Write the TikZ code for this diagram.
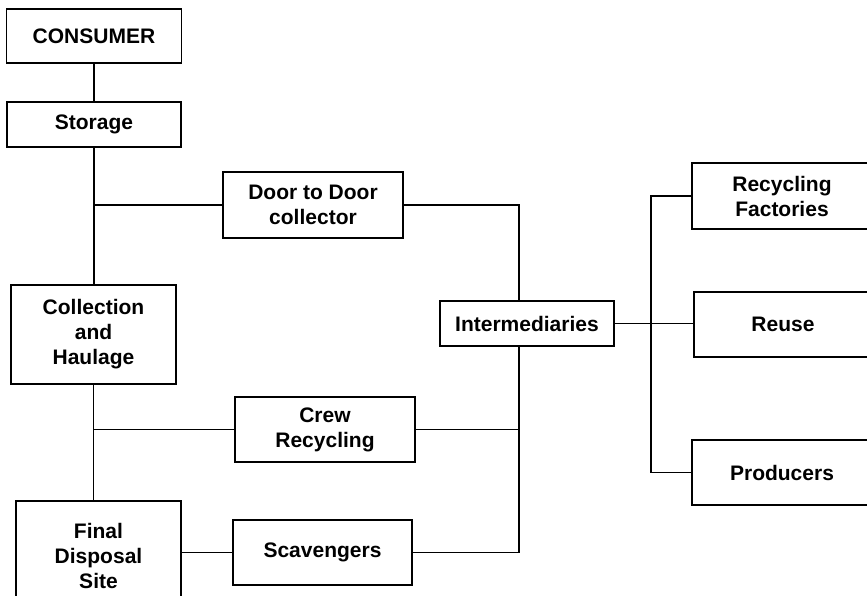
\documentclass[tikz,border=0pt]{standalone}
\usepackage{fontspec}
\setmainfont{Liberation Sans}
\begin{document}
\begin{tikzpicture}[x=1pt,y=-1pt,
  box/.style={draw=black,line width=1.6pt,inner sep=0pt,align=center,
    font=\fontsize{21}{25}\selectfont\bfseries,text=black},
  link/.style={draw=black,line width=1.3pt}]
\useasboundingbox (0,0) rectangle (867,596);
\clip (0,0) rectangle (867,596);
\fill[white] (0,0) rectangle (867,596);
% left column
\node[box,minimum width=175pt,minimum height=54pt] (consumer) at (94,36) {CONSUMER};
\node[box,minimum width=174pt,minimum height=45pt] (storage) at (94,124.5) {Storage};
\node[box,minimum width=165pt,minimum height=99pt] (collection) at (93.5,334.5) {Collection\\and\\Haulage};
\node[box,minimum width=165pt,minimum height=110pt] (final) at (98.5,556) {Final\\Disposal\\Site};
% middle column
\node[box,minimum width=180pt,minimum height=66pt] (door) at (313,205) {Door to Door\\collector};
\node[box,minimum width=180pt,minimum height=65pt] (crew) at (325,429.5) {Crew\\Recycling};
\node[box,minimum width=179pt,minimum height=65pt] (scav) at (322.5,552.5) {Scavengers};
\node[box,minimum width=174pt,minimum height=45pt] (inter) at (527,323.5) {Intermediaries};
% right column
\node[box,minimum width=180pt,minimum height=66pt] (rf) at (782,196) {Recycling\\Factories};
\node[box,minimum width=178pt,minimum height=65pt] (reuse) at (783,324.5) {Reuse};
\node[box,minimum width=180pt,minimum height=65pt] (prod) at (782,472.5) {Producers};
% junction coordinates
\coordinate (j1) at (94,205);
\coordinate (j2) at (94,429.5);
\coordinate (ib) at (519,0);
\coordinate (rb) at (651,0);
% connectors
\draw[link] (consumer) -- (storage);
\draw[link] (storage.south) -- (storage.south |- collection.north);
\draw[link] (j1) -- (door.west);
\draw[link] (collection.south) -- (collection.south |- final.north);
\draw[link] (j2) -- (crew.west);
\draw[link] (scav.west) -- (scav.west -| final.east);
\draw[link] (door.east) -| (ib |- inter.north);
\draw[link] (ib |- inter.south) |- (scav.east);
\draw[link] (crew.east) -- (crew.east -| ib);
\draw[link] (inter.east) -- (inter.east -| reuse.west);
\draw[link] (rf.west) -- (rf.west -| rb) -- (prod.west -| rb) -- (prod.west);
\end{tikzpicture}
\end{document}
